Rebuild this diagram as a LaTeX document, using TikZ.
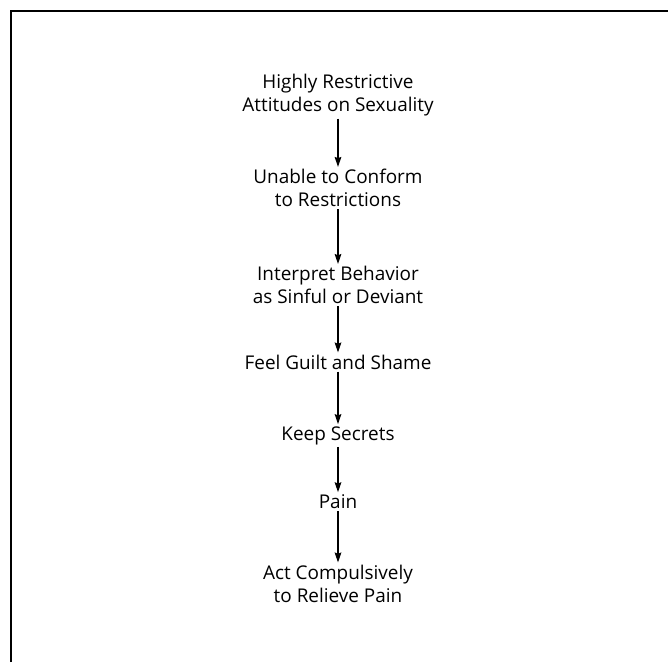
\documentclass[tikz,border=0pt]{standalone}
\usepackage{fontspec}
\setmainfont{Open Sans}
\usetikzlibrary{positioning,arrows.meta}

\tikzset{
  stage/.style={align=center, inner sep=1.5pt, font=\fontsize{14.2}{17.25}\selectfont},
  flow/.style={-{Stealth[length=7.5pt,width=5pt,inset=1pt]}, line width=0.8pt},
}

\begin{document}
\begin{tikzpicture}[x=0.75pt,y=-0.75pt]
% Page in pixels of the scan, y runs downwards
\useasboundingbox (0,0) rectangle (668,662);

% Frame (only the top and left edges are on the page)
\draw[line width=1.5pt] (11,662) -- (11,10.5) -- (668,10.5);

% Stages
\node[stage] (attitudes) at (338,95.5) {Highly Restrictive\\Attitudes on Sexuality};
\node[stage] (unable)    at (338,188)  {Unable to Conform\\to Restrictions};
\node[stage] (interpret) at (338,285)  {Interpret Behavior\\as Sinful or Deviant};
\node[stage] (guilt)     at (338,362)  {Feel Guilt and Shame};
\node[stage] (secrets)   at (338,435.5) {Keep Secrets};
\node[stage] (pain)      at (338,501.5) {Pain};
\node[stage] (act)       at (338,583.5) {Act Compulsively\\to Relieve Pain};

% Arrows
\foreach \a/\b in {attitudes/unable, unable/interpret, interpret/guilt,
                   guilt/secrets, secrets/pain, pain/act}
    \draw[flow] (\a) -- (\b);
\end{tikzpicture}
\end{document}
